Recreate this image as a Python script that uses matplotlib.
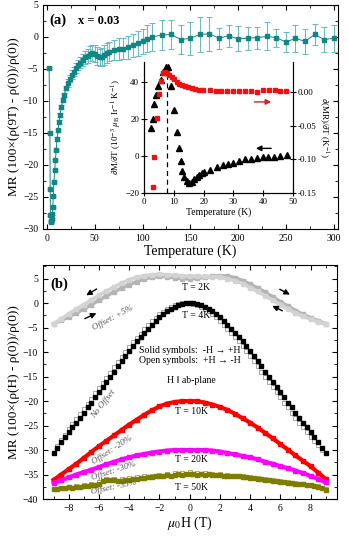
import numpy as np
import matplotlib
matplotlib.use('Agg')
import matplotlib.pyplot as plt
from matplotlib.ticker import MultipleLocator

plt.rcParams['font.family'] = ['Liberation Serif', 'DejaVu Serif']
plt.rcParams['mathtext.fontset'] = 'stix'
plt.rcParams['xtick.direction'] = 'in'
plt.rcParams['ytick.direction'] = 'in'

# ---- panel (a): MR at 9 T vs temperature ----
T_a = [2.2, 3.0, 3.3, 3.6, 4.0, 4.5, 5.0, 5.5, 6.0, 6.6, 7.2, 8.0, 8.8, 9.6, 10.5,
       11.5, 12.5, 13.5, 15, 16.5, 18, 20, 22, 24, 26, 28, 30, 32.5, 35, 37.5,
       40, 42.5, 45, 47.5, 50, 52.5, 55, 57.5, 60, 62.5, 65, 70, 75, 80, 85,
       90, 95, 100, 105, 110, 120, 130, 140, 150, 160, 170, 180, 190, 200, 210,
       220, 230, 240, 250, 260, 270, 280, 290, 300]
MR_a = [-4.8, -15.0, -23.7, -27.8, -28.8, -28.9, -28.4, -27.6, -26.5, -24.8, -22.7,
        -20.8, -19.2, -17.6, -16.0, -14.6, -13.3, -12.2, -10.9, -9.9, -9.0, -8.0,
        -7.2, -6.5, -5.9, -5.4, -4.9, -4.4, -4.0, -3.6, -3.2, -2.9, -2.6, -2.5,
        -2.6, -2.9, -3.2, -3.1, -2.8, -2.5, -2.3, -2.0, -1.9, -1.8, -1.6, -1.3,
        -1.0, -0.7, -0.3, 0.0, 0.3, 0.4, -0.4, -0.2, 0.4, 0.5, -0.2, 0.2, -0.3,
        -0.2, -0.1, 0.1, -0.1, -0.8, -0.2, -0.7, 0.4, -0.4, -0.2]
err_a = [0.15] * 14 + [0.3] * 8 + \
        [0.6, 0.6, 0.7, 0.7, 0.8, 0.8, 0.9, 1.0, 1.0] + \
        [1.1, 1.2, 1.3, 1.3, 1.4, 1.3, 1.4, 1.5] + \
        [1.5, 1.5, 1.6, 1.7, 1.7, 1.8, 1.8, 1.9, 2.0, 2.1, 2.2] + \
        [2.3, 2.3, 2.3, 2.6, 2.7, 2.7, 1.6, 1.7, 1.95, 1.8, 1.7, 2.2, 1.4, 1.6,
         2.1, 1.95, 1.7, 1.95, 2.1]

# inset: dM/dT (left axis) and d(MR)/dT (right axis)
T_tri = [2.2, 2.9, 3.5, 4.0, 4.8, 5.6, 6.5, 7.4, 8.2, 9.2, 10.2, 11.0, 11.6, 12.3,
         12.9, 13.4, 14.3, 15.2, 16.0, 16.8, 17.7, 18.6, 19.5, 20.2, 22.1, 24.4,
         26.4, 28.3, 30.0, 32.0, 33.9, 35.8, 37.8, 39.8, 41.7, 43.6, 45.6, 47.9]
dMdT = [15.0, 20.0, 28.5, 33.3, 37.8, 41.1, 45.6, 48.5, 48.3, 37.8, 25.0, 13.1, 4.2,
        -2.7, -8.0, -11.2, -13.3, -14.4, -13.9, -12.6, -11.2, -10.3, -9.4, -8.6,
        -7.6, -6.1, -4.9, -4.3, -3.6, -2.5, -1.8, -1.4, -1.2, -0.7, -0.7, -0.4,
        0.0, 0.5]
T_red = [2.9, 3.4, 4.3, 4.9, 5.6, 6.3, 7.0, 7.8, 8.5, 9.3, 10.1, 11.0, 11.8, 12.8,
         13.8, 14.9, 16.0, 17.1, 18.6, 19.9, 22, 24, 26, 28, 30, 32, 34, 36, 37.8,
         39.8, 41.8, 43.8, 45.8, 47.8]
dMRdT = [-0.141, -0.097, -0.039, -0.002, 0.017, 0.028, 0.030, 0.029, 0.025, 0.022,
         0.019, 0.015, 0.013, 0.011, 0.0094, 0.0079, 0.007, 0.0055, 0.004, 0.003,
         0.003, 0.0025, 0.0025, 0.0025, 0.0025, 0.0025, 0.0025, 0.0025, 0.0005,
         0.003, 0.0035, 0.003, 0.0025, 0.0025]

# ---- panel (b): MR vs field ----
H_fine = np.linspace(-9, 9, 73)    # 0.25 T steps
H_coarse = np.linspace(-9, 9, 37)  # 0.5 T steps

mr_2K_solid = [-4.2, -3.5, -2.8, -2.0, -1.2, -0.3, 0.6, 1.5, 2.3, 3.1, 3.8, 4.4, 5.0,
               5.3, 5.5, 5.4, 5.2, 5.0, 5.0, 5.1, 5.3, 5.5, 5.6, 5.5, 5.2, 4.6, 3.9,
               3.1, 2.2, 1.3, 0.3, -0.6, -1.5, -2.3, -3.0, -3.6, -4.2]
mr_2K_open = [-4.2, -3.2, -2.2, -1.2, -0.3, 0.7, 1.6, 2.5, 3.3, 4.1, 4.8, 5.3, 5.6,
              5.8, 5.9, 5.8, 5.7, 5.6, 5.5, 5.5, 5.5, 5.4, 5.3, 5.0, 4.6, 4.0, 3.2,
              2.4, 1.5, 0.6, -0.3, -1.2, -2.0, -2.7, -3.3, -3.8, -4.3]

mr_4K_solid = [-30.7, -29.5, -28.4, -27.3, -26.3, -25.3, -24.4, -23.4, -22.4, -21.3,
               -20.3, -19.2, -18.2, -17.1, -16.1, -15.0, -14.0, -12.9, -11.9, -10.8,
               -9.8, -8.8, -7.8, -6.9, -6.0, -5.2, -4.4, -3.6, -2.9, -2.2, -1.6, -1.1,
               -0.7, -0.4, -0.15, -0.05, 0.0,
               -0.05, -0.15, -0.4, -0.7, -1.1, -1.6, -2.2, -2.9, -3.6, -4.4, -5.2,
               -6.0, -6.9, -7.8, -8.8, -9.8, -10.8, -11.9, -12.9, -14.0, -15.0, -16.1,
               -17.1, -18.2, -19.2, -20.3, -21.3, -22.4, -23.4, -24.4, -25.3, -26.3,
               -27.3, -28.4, -29.5, -30.7]
mr_4K_open = [-30.6, -29.2, -28.0, -26.9, -25.8, -24.7, -23.7, -22.7, -21.6, -20.5,
              -19.5, -18.4, -17.3, -16.3, -15.2, -14.2, -13.1, -12.1, -11.0, -10.0,
              -9.0, -8.0, -7.1, -6.2, -5.3, -4.5, -3.7, -3.0, -2.3, -1.7, -1.2, -0.8,
              -0.45, -0.2, -0.05, 0.0, -0.05,
              -0.15, -0.4, -0.7, -1.1, -1.6, -2.2, -2.9, -3.6, -4.4, -5.2, -6.0,
              -6.9, -7.8, -8.8, -9.8, -10.8, -11.9, -12.9, -14.0, -15.0, -16.1,
              -17.1, -18.2, -19.2, -20.3, -21.3, -22.4, -23.4, -24.4, -25.3, -26.3,
              -27.3, -28.2, -29.0, -29.9, -30.7]

mr_10K = [-36.1, -35.0, -33.9, -32.8, -31.6, -30.4, -29.2, -28.1, -27.0, -25.9, -24.8,
          -23.8, -22.8, -21.9, -21.1, -20.5, -20.2, -20.0, -20.0, -20.0, -20.3, -20.7,
          -21.2, -21.8, -22.6, -23.5, -24.4, -25.4, -26.5, -27.6, -28.8, -29.9, -31.1,
          -32.2, -33.3, -34.6, -35.9]
mr_20K = [-36.7, -36.2, -35.6, -35.0, -34.5, -34.0, -33.5, -32.9, -32.4, -31.9, -31.5,
          -31.1, -30.8, -30.5, -30.3, -30.1, -30.0, -30.0, -30.0, -30.0, -30.0, -30.1,
          -30.3, -30.6, -30.9, -31.2, -31.5, -31.9, -32.4, -32.8, -33.3, -33.7, -34.2,
          -34.7, -35.3, -35.9, -36.6]

mr_50K_solid = [-38.0, -37.9, -37.8, -37.8, -37.6, -37.7, -37.5, -37.6, -37.4, -37.3,
                -37.2, -37.1, -36.9, -36.4, -36.1, -36.2, -36.2, -36.3, -36.3, -36.1,
                -36.2, -36.0, -35.9, -35.8, -35.7, -35.6, -35.5, -35.4, -35.3, -35.2,
                -35.1, -35.2, -35.0, -34.9, -35.0, -34.8, -34.8, -34.9, -35.0, -34.8,
                -35.0, -34.9, -35.1, -35.0, -35.1, -35.2, -35.2, -35.3, -35.4, -35.4,
                -35.6, -35.5, -35.7, -35.8, -35.9, -36.0, -36.1, -36.2, -36.3, -36.4,
                -36.6, -36.6, -36.7, -36.8, -36.9, -36.9, -37.0, -37.1, -37.2, -37.3,
                -37.5, -37.7, -38.1]
mr_50K_open = [-37.9, -37.7, -37.5, -37.4, -37.2, -37.0, -36.6, -36.0, -36.0, -36.0,
               -35.8, -35.6, -35.4, -35.2, -35.0, -34.9, -34.7, -34.6, -34.5, -34.6,
               -34.7, -34.8, -34.9, -35.0, -35.2, -35.4, -35.5, -35.7, -35.9, -36.1,
               -36.4, -36.6, -36.7, -36.9, -37.1, -37.4, -37.9]

teal = '#128585'
fig = plt.figure(figsize=(3.48, 5.36), dpi=100)

# ---------------- panel (a) ----------------
ax1 = fig.add_axes([0.1236, 0.5728, 0.8477, 0.4179])
ax1.errorbar(T_a, MR_a, yerr=err_a, fmt='s-', color=teal, ms=3.3, lw=0.7,
             ecolor='#6cbcbc', elinewidth=0.8, capsize=2, capthick=0.8)
ax1.set_xlim(-4.2, 304.5)
ax1.set_ylim(-30, 5)
ax1.xaxis.set_major_locator(MultipleLocator(50))
ax1.xaxis.set_minor_locator(MultipleLocator(25))
ax1.yaxis.set_major_locator(MultipleLocator(5))
ax1.yaxis.set_minor_locator(MultipleLocator(2.5))
ax1.tick_params(which='both', top=True, right=True, labelsize=7)
ax1.tick_params(which='major', length=3.5)
ax1.tick_params(which='minor', length=2)
ax1.set_xlabel('Temperature (K)', fontsize=10, labelpad=1)
ax1.set_ylabel('MR (100×(ρ(9T) - ρ(0))/ρ(0))', fontsize=9.5, labelpad=2)
ax1.text(0.022, 0.93, '(a)', transform=ax1.transAxes, fontsize=10.5,
         weight='bold', va='center')
ax1.text(0.118, 0.93, 'x = 0.03', transform=ax1.transAxes, fontsize=9,
         weight='bold', va='center')

# inset
axi = fig.add_axes([0.4138, 0.6399, 0.4282, 0.2444], facecolor='none')
axi.plot(T_tri, dMdT, '^', color='k', ms=4)
axi.axvline(7.6, color='k', ls=(0, (4, 3)), lw=0.9)
axi.set_xlim(0, 50)
axi.set_ylim(-20, 51)
axi.set_yticks([-20, 0, 20, 40])
axi.set_xticks([0, 10, 20, 30, 40, 50])
axi.spines['top'].set_visible(False)
axi.tick_params(direction='inout', length=4, labelsize=6.5, pad=1.5)
axi.set_xlabel('Temperature (K)', fontsize=7, labelpad=1)
axi.set_ylabel(r'$\partial$M/$\partial$T (10$^{-3}$ $\mu_\mathrm{B}$ Ir$^{-1}$ K$^{-1}$)',
               fontsize=6.5, labelpad=1)
axi.annotate('', xy=(36.6, 4.2), xytext=(43.6, 4.2),
             arrowprops=dict(arrowstyle='-|>', color='k', lw=1, mutation_scale=8))

axr = axi.twinx()
axr.plot(T_red, dMRdT, 's', color='#ee1111', ms=3)
axr.set_ylim(-0.15, 0.045)
axr.set_yticks([-0.15, -0.10, -0.05, 0.00])
axr.set_yticklabels(['-0.15', '-0.10', '-0.05', '0.00'])
axr.spines['top'].set_visible(False)
axr.tick_params(direction='inout', length=4, labelsize=6.5, pad=1.5)
axr.set_ylabel(r'$\partial$(MR)/$\partial$T (K$^{-1}$)', fontsize=6.5,
               rotation=270, labelpad=10)
axr.annotate('', xy=(43.6, -0.0144), xytext=(36.1, -0.0144),
             arrowprops=dict(arrowstyle='-|>', color='#d62020', lw=1, mutation_scale=8))

# ---------------- panel (b) ----------------
ax2 = fig.add_axes([0.1236, 0.069, 0.8448, 0.4366])
ax2.plot(H_coarse, mr_2K_solid, '-s', color='#b4b4b4', lw=2.6, ms=3)
ax2.plot(H_coarse, mr_2K_open, '-s', color='#d3d3d3', lw=2.6, ms=3)
ax2.plot(H_fine, mr_4K_open, 's', mfc='white', mec='#999999', mew=0.6, ms=3)
ax2.plot(H_fine, mr_4K_solid, 's', color='k', ms=2.5)
ax2.plot(H_coarse, mr_10K, '-s', color='#ff0000', lw=3, ms=3)
ax2.plot(H_coarse, mr_20K, '-s', color='#ff00ff', lw=3, ms=3)
ax2.plot(H_coarse, mr_50K_open, 's', mfc='none', mec='#b0b060', mew=0.7, ms=3)
ax2.plot(H_fine, mr_50K_solid, 's', color='#7d7d00', ms=2.6)

ax2.set_xlim(-9.7, 9.75)
ax2.set_ylim(-40, 7.8)
ax2.xaxis.set_major_locator(MultipleLocator(2))
ax2.xaxis.set_minor_locator(MultipleLocator(1))
ax2.yaxis.set_major_locator(MultipleLocator(5))
ax2.yaxis.set_minor_locator(MultipleLocator(2.5))
ax2.tick_params(which='both', top=True, right=True, labelsize=7)
ax2.tick_params(which='major', length=3.5)
ax2.tick_params(which='minor', length=2)
ax2.set_xlabel(r'$\mu_0$H (T)', fontsize=10, labelpad=1)
ax2.set_ylabel('MR (100×(ρ(H) - ρ(0))/ρ(0))', fontsize=9.5, labelpad=2)

ax2.text(-9.2, 3.8, '(b)', fontsize=10.5, weight='bold', va='center')
tkw = dict(fontsize=7, ha='center', va='center')
ax2.text(0.4, 3.2, 'T = 2K', **tkw)
ax2.text(0.4, -2.6, 'T = 4K', **tkw)
ax2.text(0.0, -9.6, 'Solid symbols:  -H → +H', **tkw)
ax2.text(0.0, -11.7, 'Open symbols:  +H → -H', **tkw)
ax2.text(0.1, -15.7, 'H ‖ ab-plane', **tkw)
ax2.text(0.1, -22.2, 'T = 10K', **tkw)
ax2.text(0.1, -32.0, 'T = 20K', **tkw)
ax2.text(0.1, -37.6, 'T = 50K', **tkw)

okw = dict(fontsize=6.5, style='italic', color='#555555', ha='center', va='center')
ax2.text(-5.1, -3.0, 'Offset: +5%', rotation=28, **okw)
ax2.text(-5.7, -20.5, 'No Offset', rotation=52, **okw)
ax2.text(-5.1, -30.0, 'Offset: -20%', rotation=33, **okw)
ax2.text(-5.0, -34.2, 'Offset: -30%', rotation=18, **okw)
ax2.text(-5.0, -37.7, 'Offset: -35%', rotation=12, **okw)

akw = dict(arrowstyle='-|>', color='k', lw=1, mutation_scale=8)
ax2.annotate('', xy=(-7.0, 1.3), xytext=(-6.0, 3.2), arrowprops=akw)
ax2.annotate('', xy=(-6.0, -1.8), xytext=(-7.1, -3.4), arrowprops=akw)
ax2.annotate('', xy=(6.8, 1.5), xytext=(5.8, 3.1), arrowprops=akw)
ax2.annotate('', xy=(5.3, -0.3), xytext=(6.3, -1.8), arrowprops=akw)

fig.savefig('out.png', dpi=100)
